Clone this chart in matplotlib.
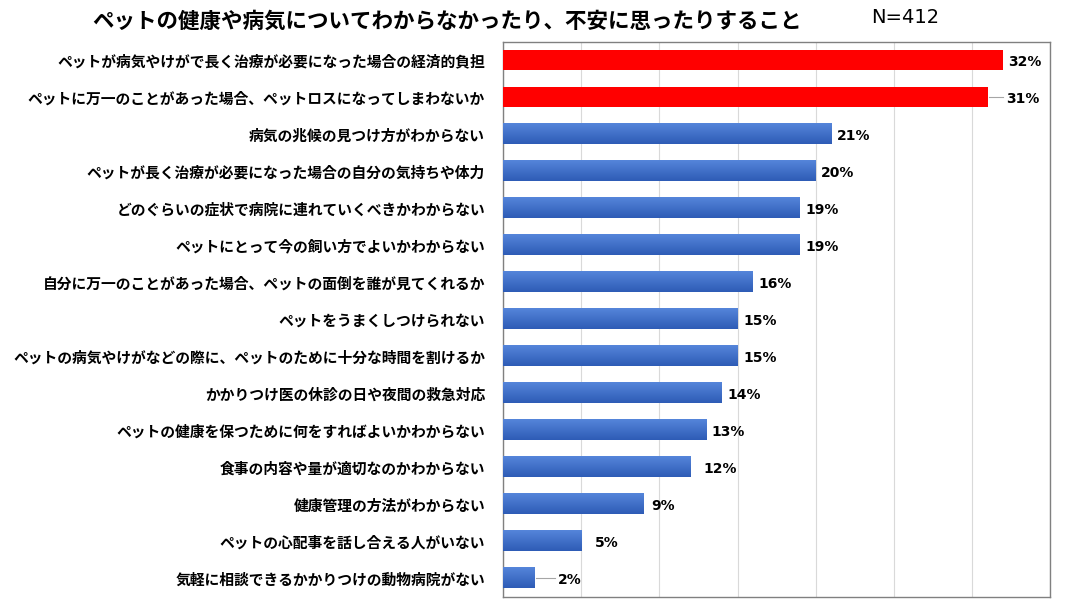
import numpy as np
import matplotlib
matplotlib.use("Agg")
import matplotlib.pyplot as plt
from matplotlib.colors import LinearSegmentedColormap

plt.rcParams['font.family'] = ['Noto Sans CJK JP', 'DejaVu Sans']

labels = [
    'ペットが病気やけがで長く治療が必要になった場合の経済的負担',
    'ペットに万一のことがあった場合、ペットロスになってしまわないか',
    '病気の兆候の見つけ方がわからない',
    'ペットが長く治療が必要になった場合の自分の気持ちや体力',
    'どのぐらいの症状で病院に連れていくべきかわからない',
    'ペットにとって今の飼い方でよいかわからない',
    '自分に万一のことがあった場合、ペットの面倒を誰が見てくれるか',
    'ペットをうまくしつけられない',
    'ペットの病気やけがなどの際に、ペットのために十分な時間を割けるか',
    'かかりつけ医の休診の日や夜間の救急対応',
    'ペットの健康を保つために何をすればよいかわからない',
    '食事の内容や量が適切なのかわからない',
    '健康管理の方法がわからない',
    'ペットの心配事を話し合える人がいない',
    '気軽に相談できるかかりつけの動物病院がない',
]
values = [32, 31, 21, 20, 19, 19, 16, 15, 15, 14, 13, 12, 9, 5, 2]
highlight = [True, True] + [False] * 13

fig = plt.figure(figsize=(10.66, 6.14), dpi=100)
ax = fig.add_axes([0.472, 0.028, 0.513, 0.904])

y = np.arange(len(values))
bar_h = 0.55
blue_map = LinearSegmentedColormap.from_list('b', ['#5585DA', '#2E5CB6'])
grad = np.linspace(0, 1, 50).reshape(-1, 1)

for i, (v, hl) in enumerate(zip(values, highlight)):
    if hl:
        ax.barh(i, v, height=bar_h, color='#FF0000', zorder=3)
    else:
        ax.imshow(grad, cmap=blue_map, aspect='auto', zorder=3,
                  extent=(0, v, i + bar_h / 2, i - bar_h / 2))

# data labels (a couple pushed out with leader lines like the original)
offsets = {1: 1.2, 12: 0.5, 13: 0.9, 14: 1.5, 11: 0.8}
for i, v in enumerate(values):
    off = offsets.get(i, 0.35)
    if i in (1, 14):
        ax.plot([v + 0.1, v + off - 0.2], [i, i], color='#A6A6A6', lw=0.8, zorder=3)
    ax.text(v + off, i + 0.05, f'{v}%', va='center', ha='left',
            fontsize=10, fontweight='bold', family=['DejaVu Sans'])

ax.set_xlim(0, 35)
ax.set_ylim(len(values) - 0.5, -0.5)
ax.set_xticks(np.arange(0, 36, 5))
ax.set_xticklabels([])
ax.tick_params(axis='x', length=0)
ax.tick_params(axis='y', length=0, pad=13)
ax.set_yticks(y)
ax.set_yticklabels(labels, fontsize=10.65, fontweight='bold')
ax.grid(axis='x', color='#D9D9D9', lw=0.8, zorder=0)
ax.set_axisbelow(True)
for s in ax.spines.values():
    s.set_color('#808080')
    s.set_linewidth(1.0)

fig.text(0.419, 0.966, 'ペットの健康や病気についてわからなかったり、不安に思ったりすること',
         ha='center', va='center', fontsize=15.5, fontweight='bold')
fig.text(0.849, 0.972, 'N=412', ha='center', va='center', fontsize=14,
         family=['DejaVu Sans'])

fig.savefig('out.png', dpi=100)
